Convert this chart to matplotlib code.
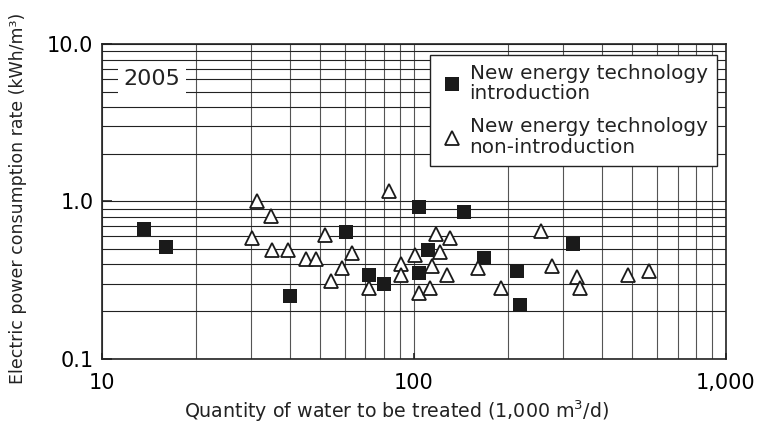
import numpy as np
import matplotlib
matplotlib.use("Agg")
import matplotlib.pyplot as plt
from matplotlib.ticker import FixedLocator, NullFormatter

# values
intro_x = [13.7, 16.1, 40.2, 60.7, 72, 80, 104, 104, 111, 145, 168, 214, 219, 324]
intro_y = [0.67, 0.51, 0.25, 0.64, 0.34, 0.30, 0.92, 0.35, 0.49, 0.86, 0.44, 0.36, 0.22, 0.54]

non_x = [30.3, 31.4, 34.8, 35.2, 39.5, 45.2, 48.6, 51.9, 54.4, 58.9, 63.2, 71.6, 83.0,
         90.7, 90.7, 100.7, 104, 113, 114.5, 118, 121, 128, 131, 161, 190, 255, 277,
         332, 340, 486, 567]
non_y = [0.59, 1.01, 0.81, 0.49, 0.49, 0.43, 0.43, 0.61, 0.31, 0.375, 0.47, 0.28, 1.17,
         0.40, 0.34, 0.46, 0.26, 0.28, 0.39, 0.62, 0.48, 0.34, 0.59, 0.38, 0.28, 0.65, 0.39,
         0.33, 0.28, 0.34, 0.36]

x_ticks = [10, 100, 1000]
x_tick_labels = ["10", "100", "1,000"]
y_ticks = [0.1, 1.0, 10.0]
y_tick_labels = ["0.1", "1.0", "10.0"]

year_label = "2005"
intro_label = "New energy technology\nintroduction"
non_label = "New energy technology\nnon-introduction"

plt.rcParams['font.family'] = ['DejaVu Sans']

fig = plt.figure(figsize=(7.59, 4.23), dpi=100)
ax = fig.add_axes([0.134, 0.152, 0.8225, 0.7433])

ax.set_xscale('log')
ax.set_yscale('log')
ax.set_xlim(10, 1000)
ax.set_ylim(0.1, 10)

# grid at every minor step on both axes
ax.xaxis.set_minor_locator(FixedLocator([m * d for d in (10, 100) for m in range(2, 10)]))
ax.yaxis.set_minor_locator(FixedLocator([m * d for d in (0.1, 1) for m in range(2, 10)]))
ax.xaxis.set_minor_formatter(NullFormatter())
ax.yaxis.set_minor_formatter(NullFormatter())
ax.grid(True, which='both', axis='y', color='#222222', lw=0.8, zorder=0)
ax.grid(True, which='both', axis='x', color='#555555', lw=0.8, zorder=0)
ax.set_axisbelow(True)

ax.set_xticks(x_ticks)
ax.set_xticklabels(x_tick_labels)
ax.set_yticks(y_ticks)
ax.set_yticklabels(y_tick_labels)
ax.tick_params(which='major', direction='in', length=7, width=1.2, labelsize=15, color='#222222')
ax.tick_params(axis='x', which='major', pad=10, length=4)
ax.tick_params(axis='y', which='major', pad=6)
ax.tick_params(which='minor', length=0)

for s in ax.spines.values():
    s.set_color('#222222')
    s.set_linewidth(1.2)

ax.plot(intro_x, intro_y, ls='none', marker='s', ms=10.5, mfc='#1a1a1a', mec='#1a1a1a',
        mew=0, label=intro_label, zorder=3)
ax.plot(non_x, non_y, ls='none', marker='^', ms=10.5, mfc='white', mec='#1a1a1a',
        mew=1.3, label=non_label, zorder=3)

ax.set_xlabel("Quantity of water to be treated (1,000 m$^3$/d)", fontsize=13.7, color='#222222')
ax.set_ylabel("Electric power consumption rate (kWh/m\u00b3)", fontsize=12.5, color='#222222')
ax.xaxis.set_label_coords(0.472, -0.125)
ax.yaxis.set_label_coords(-0.12, 0.511)

ax.text(0.0798, 0.8896, year_label, transform=ax.transAxes, fontsize=16, color='#222222',
        ha='center', va='center', zorder=4,
        bbox=dict(boxstyle='square,pad=0.25', fc='white', ec='none'))

leg = ax.legend(loc='upper right', bbox_to_anchor=(0.985, 0.966), borderaxespad=0,
                fontsize=14.4, frameon=True, fancybox=False, framealpha=1,
                edgecolor='#222222', handlelength=1.3, handletextpad=0.25,
                borderpad=0.45, labelspacing=0.7)
leg.get_frame().set_linewidth(1.0)
leg.set_zorder(5)
for t in leg.get_texts():
    t.set_color('#222222')
    t.set_linespacing(1.1)

fig.savefig("out.png", dpi=100)
